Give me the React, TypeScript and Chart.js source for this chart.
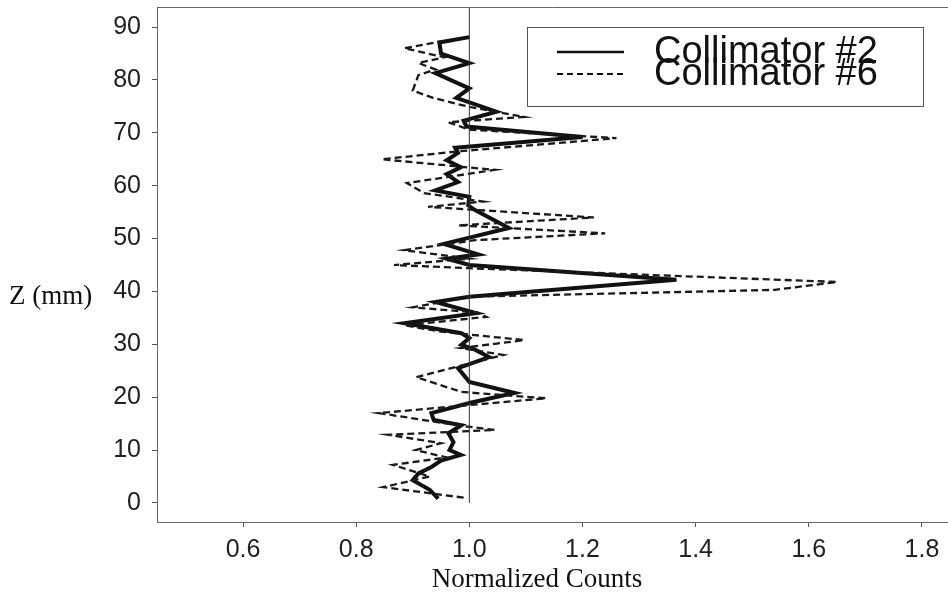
import React, { useEffect, useRef } from "react";
import { Chart, registerables } from "chart.js";

Chart.register(...registerables);

// Collimator #2 (solid): depth Z (mm) and normalized counts
const zCol2 = [0.8, 2.5, 4.3, 5.6, 6.8, 8.0, 9.1, 10.0, 11.5, 13.2, 14.7, 15.7, 17.0, 18.9, 20.8, 22.9, 25.5, 27.6, 29.0, 29.9, 31.2, 32.1, 34.0, 35.9, 38.0, 39.0, 42.2, 45.0, 46.2, 47.0, 49.0, 52.0, 55.4, 56.3, 57.9, 59.1, 60.7, 62.2, 63.5, 64.8, 66.2, 67.2, 69.2, 71.2, 72.3, 74.0, 76.6, 78.4, 81.3, 83.2, 85.0, 87.1, 88.1];
const countsCol2 = [0.945, 0.93, 0.90, 0.91, 0.933, 0.95, 0.985, 0.965, 0.972, 0.963, 0.986, 0.937, 0.933, 1.0, 1.08, 1.0, 0.98, 1.035, 1.01, 0.986, 1.0, 0.986, 0.885, 1.012, 0.94, 1.0, 1.366, 1.0, 0.96, 1.016, 0.955, 1.07, 1.01, 0.998, 1.0, 0.94, 0.98, 0.96, 0.985, 0.96, 0.98, 0.975, 1.2, 0.995, 0.99, 1.048, 0.977, 1.0, 0.94, 1.0, 0.95, 0.947, 1.0];

// Collimator #6 (dashed)
const zCol6 = [1.0, 3.0, 5.0, 7.2, 8.6, 10.0, 11.3, 12.9, 13.8, 14.6, 17.0, 19.8, 21.0, 23.8, 28.0, 29.3, 30.8, 32.4, 33.6, 35.2, 36.0, 37.0, 39.0, 40.3, 41.8, 44.4, 45.0, 46.2, 47.8, 49.7, 51.0, 52.5, 54.0, 56.0, 57.0, 58.6, 60.5, 63.0, 65.0, 66.5, 69.0, 70.6, 72.0, 73.0, 74.9, 76.6, 78.0, 80.9, 82.0, 83.2, 84.3, 86.0, 87.3];
const countsCol6 = [0.99, 0.848, 0.93, 0.865, 0.96, 0.905, 0.95, 0.857, 1.045, 0.985, 0.84, 1.136, 0.986, 0.906, 1.06, 0.985, 1.097, 0.95, 0.885, 1.03, 1.015, 0.9, 1.0, 1.54, 1.65, 1.0, 0.867, 1.0, 0.885, 1.01, 1.24, 0.98, 1.22, 0.927, 1.024, 0.92, 0.89, 1.045, 0.845, 0.98, 1.26, 1.0, 0.963, 1.097, 1.0, 0.936, 0.90, 0.91, 0.94, 0.91, 0.956, 0.885, 0.95];

// Reference line at normalized counts = 1.0
const refLineCounts = [1.0, 1.0];
const refLineZ = [0, 93.8];

const xTickValues = [0.6, 0.8, 1.0, 1.2, 1.4, 1.6, 1.8];
const yTickValues = [0, 10, 20, 30, 40, 50, 60, 70, 80, 90];
const seriesLabels = ["Collimator #2", "Collimator #6"];
const xTitle = "Normalized Counts";
const yTitle = "Z (mm)";

const X_MIN = 0.448;
const X_MAX = 1.846;
const Y_MIN = -3.6;
const Y_MAX = 93.8;

const toPoints = (xs: number[], ys: number[]) => xs.map((x, i) => ({ x, y: ys[i] }));

const decorPlugin = {
  id: "decor",
  afterDraw(chart: any) {
    const { ctx, chartArea } = chart;
    ctx.save();
    // top frame line
    ctx.strokeStyle = "#666";
    ctx.lineWidth = 1;
    ctx.setLineDash([]);
    ctx.beginPath();
    ctx.moveTo(chartArea.left, chartArea.top + 0.5);
    ctx.lineTo(chartArea.right, chartArea.top + 0.5);
    ctx.stroke();

    // axis titles
    ctx.fillStyle = "#111";
    ctx.font = "27px 'Liberation Serif', 'Times New Roman', serif";
    ctx.textBaseline = "middle";
    ctx.textAlign = "left";
    ctx.fillText(yTitle, 9, 297);
    ctx.textAlign = "center";
    ctx.fillText(xTitle, 537, 580);

    // legend box
    const bx = 527, by = 27, bw = 396, bh = 79;
    ctx.fillStyle = "#fff";
    ctx.fillRect(bx, by, bw, bh);
    ctx.strokeStyle = "#555";
    ctx.lineWidth = 1;
    ctx.strokeRect(bx + 0.5, by + 0.5, bw, bh);

    ctx.strokeStyle = "#111";
    ctx.lineWidth = 2.5;
    ctx.beginPath();
    ctx.moveTo(557, 52);
    ctx.lineTo(624, 52);
    ctx.stroke();
    ctx.lineWidth = 2;
    ctx.setLineDash([6, 4]);
    ctx.beginPath();
    ctx.moveTo(557, 74);
    ctx.lineTo(624, 74);
    ctx.stroke();
    ctx.setLineDash([]);

    ctx.fillStyle = "#111";
    ctx.font = "38px 'Liberation Sans', Arial, sans-serif";
    ctx.textAlign = "left";
    ctx.textBaseline = "alphabetic";
    ctx.fillText(seriesLabels[0], 654, 63);
    ctx.fillText(seriesLabels[1], 654, 85);
    ctx.restore();
  },
};

export default function App() {
  const canvasRef = useRef<HTMLCanvasElement | null>(null);

  useEffect(() => {
    const canvas = canvasRef.current;
    if (!canvas) return;
    const chart = new Chart(canvas, {
      type: "scatter",
      data: {
        datasets: [
          {
            label: "ref",
            data: toPoints(refLineCounts, refLineZ),
            showLine: true,
            borderColor: "#333",
            borderWidth: 1,
            pointRadius: 0,
          },
          {
            label: seriesLabels[1],
            data: toPoints(countsCol6, zCol6),
            showLine: true,
            borderColor: "#1a1a1a",
            borderWidth: 2.3,
            borderDash: [7, 4],
            pointRadius: 0,
            tension: 0,
          },
          {
            label: seriesLabels[0],
            data: toPoints(countsCol2, zCol2),
            showLine: true,
            borderColor: "#111",
            borderWidth: 4,
            pointRadius: 0,
            tension: 0,
          },
        ],
      },
      options: {
        responsive: false,
        animation: false,
        layout: { padding: { top: 7, right: 0, left: 0, bottom: 0 } },
        plugins: {
          legend: { display: false },
          tooltip: { enabled: false },
        },
        scales: {
          x: {
            type: "linear",
            min: X_MIN,
            max: X_MAX,
            afterBuildTicks: (scale: any) => {
              scale.ticks = xTickValues.map((v) => ({ value: v }));
            },
            afterFit: (scale: any) => {
              scale.height = 74;
              scale.paddingLeft = 0;
              scale.paddingRight = 0;
            },
            ticks: {
              autoSkip: false,
              maxRotation: 0,
              padding: 8,
              color: "#222",
              font: { family: "'Liberation Sans', Arial, sans-serif", size: 25 },
              callback: (v: any) => Number(v).toFixed(1),
            },
            grid: {
              drawOnChartArea: false,
              drawTicks: true,
              tickLength: 5,
              color: "#555",
            },
            border: { display: true, color: "#666", width: 1 },
          },
          y: {
            type: "linear",
            min: Y_MIN,
            max: Y_MAX,
            afterBuildTicks: (scale: any) => {
              scale.ticks = yTickValues.map((v) => ({ value: v }));
            },
            afterFit: (scale: any) => {
              scale.width = 157;
              scale.paddingTop = 0;
              scale.paddingBottom = 0;
            },
            ticks: {
              autoSkip: false,
              padding: 11,
              color: "#222",
              font: { family: "'Liberation Sans', Arial, sans-serif", size: 25 },
              callback: (v: any) => String(v),
            },
            grid: {
              drawOnChartArea: false,
              drawTicks: true,
              tickLength: 5,
              color: "#555",
            },
            border: { display: true, color: "#666", width: 1 },
          },
        },
      },
      plugins: [decorPlugin],
    });
    return () => chart.destroy();
  }, []);

  return (
    <div style={{ position: "fixed", left: 0, top: 0, width: 948, height: 596, background: "#fff" }}>
      <canvas ref={canvasRef} width={948} height={596} />
    </div>
  );
}
